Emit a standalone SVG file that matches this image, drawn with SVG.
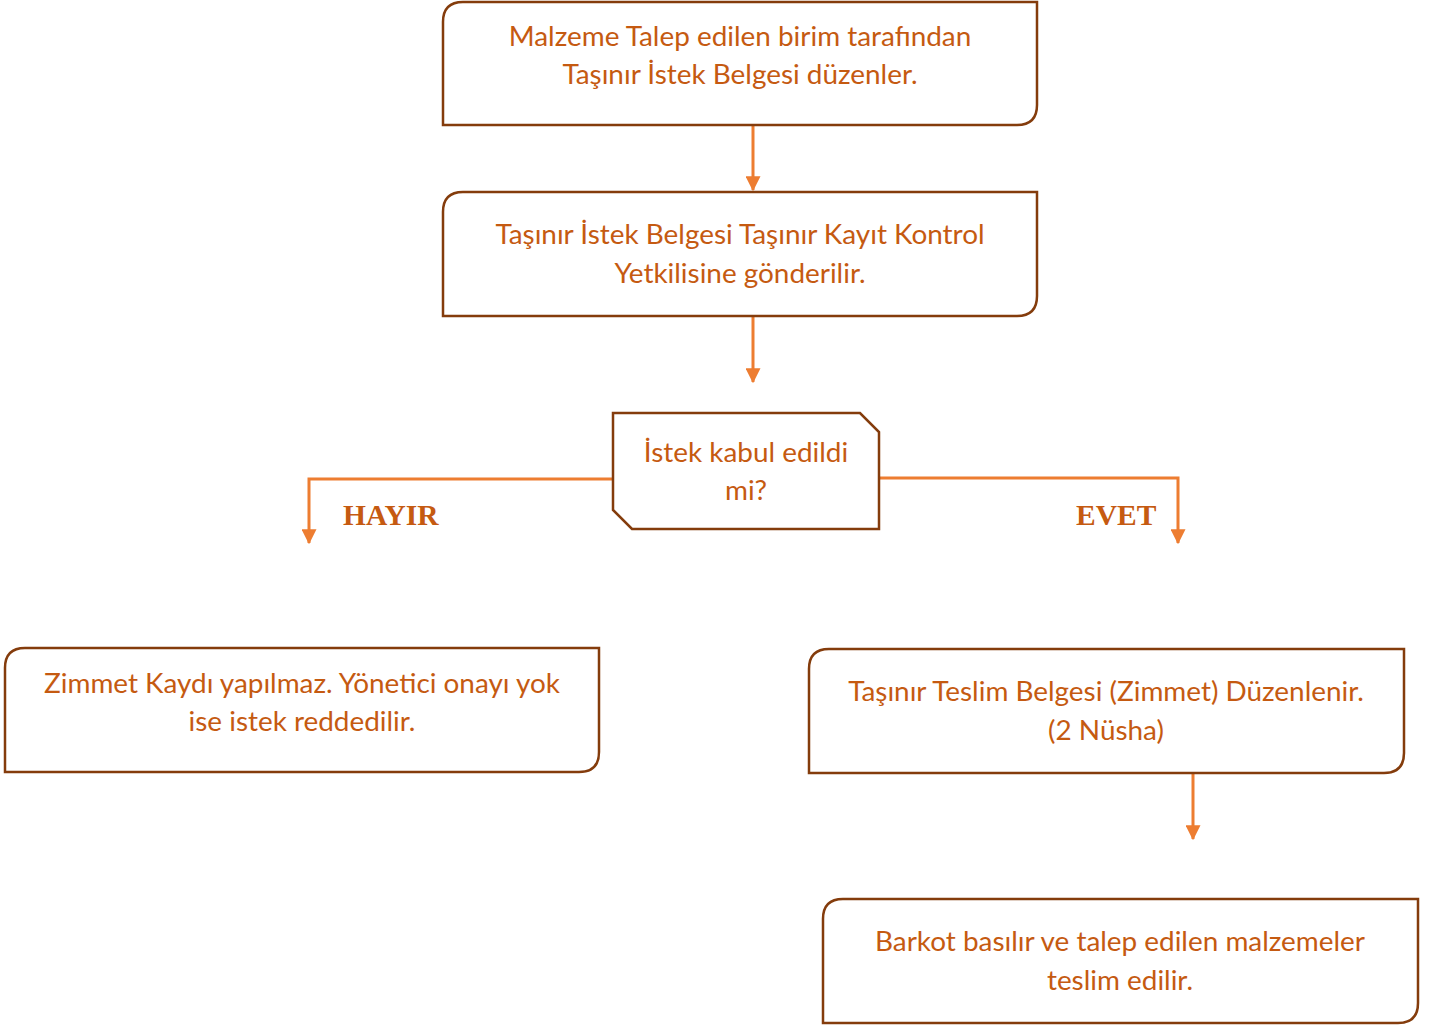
<svg xmlns="http://www.w3.org/2000/svg" width="1430" height="1025" viewBox="0 0 1430 1025">
<style>
.box{fill:#fff;stroke:#843C0C;stroke-width:2.5}
.t{font-family:Lato,"Open Sans",sans-serif;font-size:27.9px;fill:#C55A11;text-anchor:middle}
.lbl{font-family:"Liberation Serif",serif;font-weight:bold;font-size:29.5px;fill:#C55A11}
.c{fill:none;stroke:#ED7D31;stroke-width:3}
</style>
<defs>
<marker id="ah" markerWidth="5" markerHeight="5" refX="4.6" refY="2.5" orient="auto" markerUnits="strokeWidth">
<path d="M0,0 L5,2.5 L0,5 Z" fill="#ED7D31"/>
</marker>
</defs>
<g id="connectors">
<path class="c" d="M753,125 V190" marker-end="url(#ah)"/>
<path class="c" d="M753,316 V382" marker-end="url(#ah)"/>
<path class="c" d="M613,479 H309 V543" marker-end="url(#ah)"/>
<path class="c" d="M879,478 H1178 V543" marker-end="url(#ah)"/>
<path class="c" d="M1193,773 V839" marker-end="url(#ah)"/>
</g>
<g id="n1">
<path class="box" d="M463,2 H1037 V105 Q1037,125 1017,125 H443 V22 Q443,2 463,2 Z"/>
<text class="t" x="740" y="46">Malzeme Talep edilen birim tarafından</text>
<text class="t" x="740" y="84">Taşınır İstek Belgesi düzenler.</text>
</g>
<g id="n2">
<path class="box" d="M463,192 H1037 V296 Q1037,316 1017,316 H443 V212 Q443,192 463,192 Z"/>
<text class="t" x="740" y="244">Taşınır İstek Belgesi Taşınır Kayıt Kontrol</text>
<text class="t" x="740" y="283">Yetkilisine gönderilir.</text>
</g>
<g id="decision">
<path class="box" d="M613,413 H860 L879,432 V529 H632 L613,510 Z"/>
<text class="t" x="746" y="462">İstek kabul edildi</text>
<text class="t" x="746" y="500">mi?</text>
</g>
<g id="labels">
<text class="lbl" x="343" y="525">HAYIR</text>
<text class="lbl" x="1076" y="525">EVET</text>
</g>
<g id="n3">
<path class="box" d="M25,648 H599 V752 Q599,772 579,772 H5 V668 Q5,648 25,648 Z"/>
<text class="t" x="302" y="693">Zimmet Kaydı yapılmaz. Yönetici onayı yok</text>
<text class="t" x="302" y="731">ise istek reddedilir.</text>
</g>
<g id="n4">
<path class="box" d="M829,649 H1404 V753 Q1404,773 1384,773 H809 V669 Q809,649 829,649 Z"/>
<text class="t" x="1106" y="701">Taşınır Teslim Belgesi (Zimmet) Düzenlenir.</text>
<text class="t" x="1106" y="740">(2 Nüsha)</text>
</g>
<g id="n5">
<path class="box" d="M843,899 H1418 V1003 Q1418,1023 1398,1023 H823 V919 Q823,899 843,899 Z"/>
<text class="t" x="1120" y="951">Barkot basılır ve talep edilen malzemeler</text>
<text class="t" x="1120" y="990">teslim edilir.</text>
</g>
</svg>
